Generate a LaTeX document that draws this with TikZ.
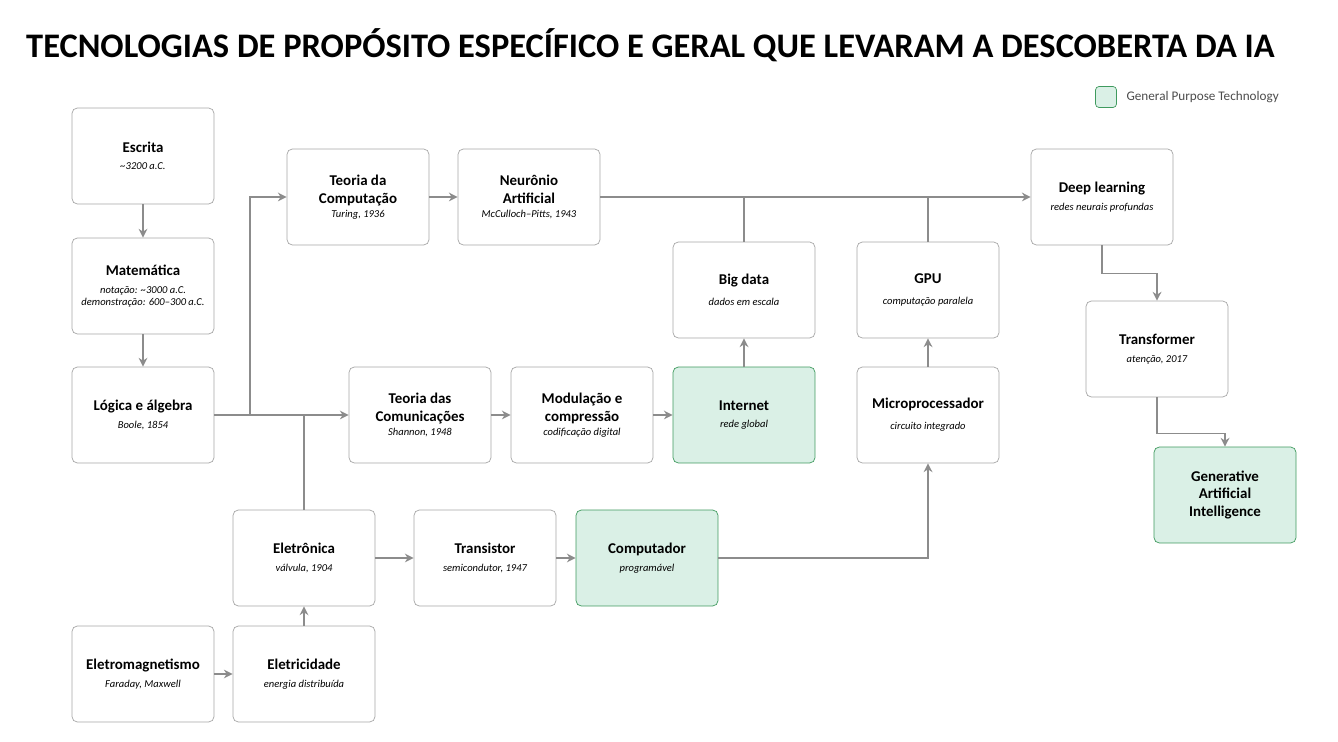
\documentclass[tikz,border=0pt]{standalone}
\usepackage{fontspec}
\setmainfont{Carlito}
\usetikzlibrary{arrows.meta,positioning}

\definecolor{boxline}{HTML}{A6A6A6}
\definecolor{arrowgray}{HTML}{8C8C8C}
\definecolor{gptfill}{HTML}{DAF0E6}
\definecolor{gptline}{HTML}{3F9A5E}

\tikzset{
  tech/.style={draw=boxline, fill=white, rounded corners=3pt, minimum width=2.84cm,
    minimum height=1.92cm, align=center, font=\fontsize{8.5}{10}\selectfont},
  gpt/.style={tech, draw=gptline, fill=gptfill},
  link/.style={draw=arrowgray, line width=0.9pt, -{Stealth[length=5pt,width=5pt]}},
  tie/.style={draw=arrowgray, line width=0.9pt}
}
\newcommand{\tname}[1]{\textbf{#1}}
\newcommand{\tnote}[1]{{\fontsize{6}{7}\selectfont\itshape #1}}

\begin{document}
\begin{tikzpicture}[x=0.02cm, y=-0.02cm]
  \useasboundingbox (0,0) rectangle (1338,742);

  % title and legend
  \node[anchor=west, font=\fontsize{19.6}{22}\selectfont\bfseries] (titulo) at (20,45)
    {TECNOLOGIAS DE PROPÓSITO ESPECÍFICO E GERAL QUE LEVARAM A DESCOBERTA DA IA};
  \node[draw=gptline, fill=gptfill, rounded corners=2pt, minimum width=0.42cm, minimum height=0.42cm] (legenda) at (1106,97) {};
  \node[right=2pt of legenda, font=\fontsize{7.5}{9}\selectfont, text=black!70] (legtexto) {General Purpose Technology};

  % boxes
  \node[tech] (escrita)      at (143,156) {\tname{Escrita}\\\tnote{\textasciitilde3200 a.C.}};
  \node[tech] (matematica)   at (143,286) {\tname{Matemática}\\\tnote{notação: \textasciitilde3000 a.C.}\\[-3pt]\tnote{demonstração: 600–300 a.C.}};
  \node[tech] (logica)       at (143,415) {\tname{Lógica e álgebra}\\\tnote{Boole, 1854}};
  \node[tech] (tcomp)        at (358,197) {\tname{Teoria da}\\\tname{Computação}\\[-2pt]\tnote{Turing, 1936}};
  \node[tech] (neuronio)     at (529,197) {\tname{Neurônio}\\\tname{Artificial}\\[-2pt]\tnote{McCulloch–Pitts, 1943}};
  \node[tech] (deep)         at (1102,197) {\tname{Deep learning}\\\tnote{redes neurais profundas}};
  \node[tech] (bigdata)      at (744,290) {\tname{Big data}\\[2pt]\tnote{dados em escala}};
  \node[tech] (gpu)          at (928,290) {\tname{GPU}\\[2pt]\tnote{computação paralela}};
  \node[tech] (transf)       at (1157,349) {\tname{Transformer}\\\tnote{atenção, 2017}};
  \node[tech] (tcom)         at (420,415) {\tname{Teoria das}\\\tname{Comunicações}\\[-2pt]\tnote{Shannon, 1948}};
  \node[tech] (modul)        at (582,415) {\tname{Modulação e}\\\tname{compressão}\\[-2pt]\tnote{codificação digital}};
  \node[gpt]  (internet)     at (744,415) {\tname{Internet}\\\tnote{rede global}};
  \node[tech] (micro)        at (928,415) {\tname{Microprocessador}\\[2pt]\tnote{circuito integrado}};
  \node[gpt]  (genai)        at (1225,495) {\tname{Generative}\\\tname{Artificial}\\\tname{Intelligence}};
  \node[tech] (eletronica)   at (304,558) {\tname{Eletrônica}\\\tnote{válvula, 1904}};
  \node[tech] (transistor)   at (485,558) {\tname{Transistor}\\\tnote{semicondutor, 1947}};
  \node[gpt]  (computador)   at (647,558) {\tname{Computador}\\\tnote{programável}};
  \node[tech] (eletromag)    at (143,674) {\tname{Eletromagnetismo}\\\tnote{Faraday, Maxwell}};
  \node[tech] (eletricidade) at (304,674) {\tname{Eletricidade}\\\tnote{energia distribuída}};

  % junction points
  \coordinate (jlog) at (250,415);
  \coordinate (jele) at (304,415);
  \coordinate (jbig) at (744,197);
  \coordinate (jgpu) at (928,197);

  % connectors
  \draw[link] (escrita) -- (matematica);
  \draw[link] (matematica) -- (logica);
  \draw[tie] (logica.east) -- (jlog);
  \draw[link] (jlog) |- (tcomp.west);
  \draw[link] (jlog) -- (tcom.west);
  \draw[tie] (eletronica.north) -- (jele);
  \draw[link] (tcomp) -- (neuronio);
  \draw[link] (neuronio.east) -- (deep.west);
  \draw[tie] (bigdata.north) -- (jbig);
  \draw[tie] (gpu.north) -- (jgpu);
  \draw[link] (tcom) -- (modul);
  \draw[link] (modul) -- (internet);
  \draw[link] (internet) -- (bigdata);
  \draw[link] (micro) -- (gpu);
  \draw[link] (computador.east) -| (micro.south);
  \draw[link] (eletronica.east) -- (transistor.west);
  \draw[link] (transistor) -- (computador);
  \draw[link] (eletricidade) -- (eletronica);
  \draw[link] (eletromag) -- (eletricidade);
  \draw[link] (deep.south) -- ++(0,28) -| (transf.north);
  \draw[link] (transf.south) -- ++(0,36) -| (genai.north);
\end{tikzpicture}
\end{document}
